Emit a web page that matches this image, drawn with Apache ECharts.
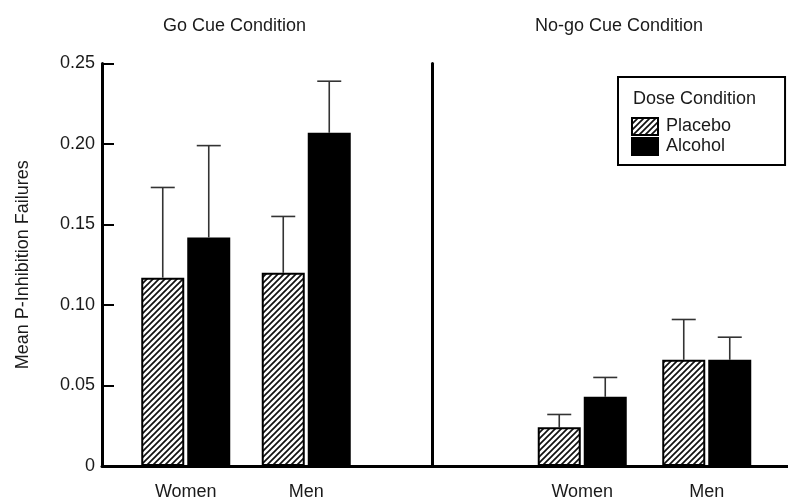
<!DOCTYPE html>
<html>
<head>
<meta charset="utf-8">
<script src="https://cdn.jsdelivr.net/npm/echarts@6/dist/echarts.min.js"></script>
<style>
  html, body { margin: 0; padding: 0; background: #fff; }
  #chart { width: 788px; height: 502px; }
</style>
</head>
<body>
<div id="chart"></div>
<script>
// Sex groups shown in each cue panel
const categories = ['Women', 'Men'];
const doseNames = ['Placebo', 'Alcohol'];

// Go cue condition: means and standard errors
const goPlacebo = [0.117, 0.120];
const goPlaceboSE = [0.056, 0.035];
const goAlcohol = [0.142, 0.207];
const goAlcoholSE = [0.057, 0.032];

// No-go cue condition: means and standard errors
const nogoPlacebo = [0.024, 0.066];
const nogoPlaceboSE = [0.008, 0.025];
const nogoAlcohol = [0.043, 0.066];
const nogoAlcoholSE = [0.012, 0.014];

const panelTitles = ['Go Cue Condition', 'No-go Cue Condition'];
const yAxisTitle = 'Mean P-Inhibition Failures';
const legendTitle = 'Dose Condition';

// Layout / style constants
const FONT = '"Liberation Sans", Arial, Helvetica, sans-serif';
const TEXT = '#1a1a1a';
const BAR_W = 43;
const BAR_SPACE = 3;
const CAP_W = 24;
const TOP = 63.5, BOTTOM = 36;

// Diagonal hatch fill for the placebo bars
function hatch() {
  const s = 6;
  const c = document.createElement('canvas');
  c.width = s; c.height = s;
  const g = c.getContext('2d');
  g.fillStyle = '#fff';
  g.fillRect(0, 0, s, s);
  g.strokeStyle = '#111';
  g.lineWidth = 1.7;
  g.beginPath();
  g.moveTo(-1, s + 1); g.lineTo(s + 1, -1);
  g.moveTo(-1, 1); g.lineTo(1, -1);
  g.moveTo(s - 1, s + 1); g.lineTo(s + 1, s - 1);
  g.stroke();
  return { image: c, repeat: 'repeat' };
}
const hatchFill = hatch();

const barStyle = {
  Placebo: { color: hatchFill, borderColor: '#000', borderWidth: 2 },
  Alcohol: { color: '#000', borderColor: '#000', borderWidth: 2 }
};

function barSeries(name, axis, values) {
  return {
    name, type: 'bar', xAxisIndex: axis, yAxisIndex: axis,
    data: values, barWidth: BAR_W, barGap: (BAR_SPACE / BAR_W * 100) + '%',
    itemStyle: barStyle[name], emphasis: { disabled: true }, z: 3
  };
}

// Upper error whisker, drawn through the axis scale from mean and SE
function errorSeries(axis, means, ses, side) {
  return {
    type: 'custom', xAxisIndex: axis, yAxisIndex: axis, z: 2,
    data: means.map((m, i) => [i, m, m + ses[i]]),
    encode: { x: 0, y: [1, 2] },
    renderItem(params, api) {
      const base = api.coord([api.value(0), api.value(1)]);
      const top = api.coord([api.value(0), api.value(2)]);
      const x = base[0] + side * (BAR_W + BAR_SPACE) / 2;
      const st = { stroke: '#333', lineWidth: 1.6 };
      return {
        type: 'group',
        children: [
          { type: 'line', shape: { x1: x, y1: base[1], x2: x, y2: top[1] }, style: st },
          { type: 'line', shape: { x1: x - CAP_W / 2, y1: top[1], x2: x + CAP_W / 2, y2: top[1] }, style: st }
        ]
      };
    }
  };
}

const valueRange = { type: 'value', min: 0, max: 0.25, interval: 0.05 };

const option = {
  backgroundColor: '#fff',
  animation: false,
  textStyle: { fontFamily: FONT, color: TEXT },
  title: [
    { text: panelTitles[0], left: 158, top: 12, textStyle: { fontFamily: FONT, fontSize: 18, fontWeight: 'normal', color: TEXT } },
    { text: panelTitles[1], left: 530, top: 12, textStyle: { fontFamily: FONT, fontSize: 18, fontWeight: 'normal', color: TEXT } },
    { text: legendTitle, left: 628, top: 85, textStyle: { fontFamily: FONT, fontSize: 18, fontWeight: 'normal', color: TEXT } }
  ],
  legend: {
    data: doseNames,
    orient: 'vertical',
    left: 618, top: 77,
    padding: [40, 54, 9, 13],
    itemGap: 1,
    itemWidth: 26, itemHeight: 17,
    icon: 'rect',
    borderColor: '#000', borderWidth: 2,
    selectedMode: false,
    textStyle: { fontFamily: FONT, fontSize: 18, color: TEXT, padding: [0, 0, 0, 3] }
  },
  grid: [
    // frame spanning both panels: carries the value axis and the baseline
    { left: 102, right: 0, top: TOP, bottom: BOTTOM },
    // go cue panel
    { left: 125.5, width: 241, top: TOP, bottom: BOTTOM },
    // no-go cue panel
    { left: 520, width: 249, top: TOP, bottom: BOTTOM }
  ],
  xAxis: [
    { gridIndex: 0, type: 'value', min: 0, max: 1, z: 10,
      axisLine: { show: true, lineStyle: { color: '#000', width: 3 } },
      axisTick: { show: false }, axisLabel: { show: false }, splitLine: { show: false } },
    { gridIndex: 1, type: 'category', data: categories,
      axisLine: { show: false }, axisTick: { show: false },
      axisLabel: { margin: 17, fontFamily: FONT, fontSize: 18, color: TEXT } },
    { gridIndex: 2, type: 'category', data: categories,
      axisLine: { show: false }, axisTick: { show: false },
      axisLabel: { margin: 17, fontFamily: FONT, fontSize: 18, color: TEXT } }
  ],
  yAxis: [
    Object.assign({ gridIndex: 0, z: 10,
      name: yAxisTitle, nameLocation: 'middle', nameGap: 70, nameRotate: 90,
      nameTextStyle: { fontFamily: FONT, fontSize: 18, color: TEXT },
      axisLine: { show: true, lineStyle: { color: '#000', width: 3 } },
      axisTick: { show: true, inside: true, length: 12, lineStyle: { color: '#000', width: 2 } },
      axisLabel: { margin: 7, fontFamily: FONT, fontSize: 18, color: TEXT,
        formatter: v => v === 0 ? '0' : v.toFixed(2) },
      splitLine: { show: false } }, valueRange),
    Object.assign({ gridIndex: 1, show: false }, valueRange),
    // panel divider
    Object.assign({ gridIndex: 2, offset: 88, z: 10,
      axisLine: { show: true, lineStyle: { color: '#000', width: 3 } },
      axisTick: { show: false }, axisLabel: { show: false }, splitLine: { show: false } }, valueRange)
  ],
  series: [
    barSeries('Placebo', 1, goPlacebo),
    barSeries('Alcohol', 1, goAlcohol),
    errorSeries(1, goPlacebo, goPlaceboSE, -1),
    errorSeries(1, goAlcohol, goAlcoholSE, 1),
    barSeries('Placebo', 2, nogoPlacebo),
    barSeries('Alcohol', 2, nogoAlcohol),
    errorSeries(2, nogoPlacebo, nogoPlaceboSE, -1),
    errorSeries(2, nogoAlcohol, nogoAlcoholSE, 1)
  ]
};

const chart = echarts.init(document.getElementById('chart'), null, { renderer: 'canvas' });
chart.setOption(option);
</script>
</body>
</html>
